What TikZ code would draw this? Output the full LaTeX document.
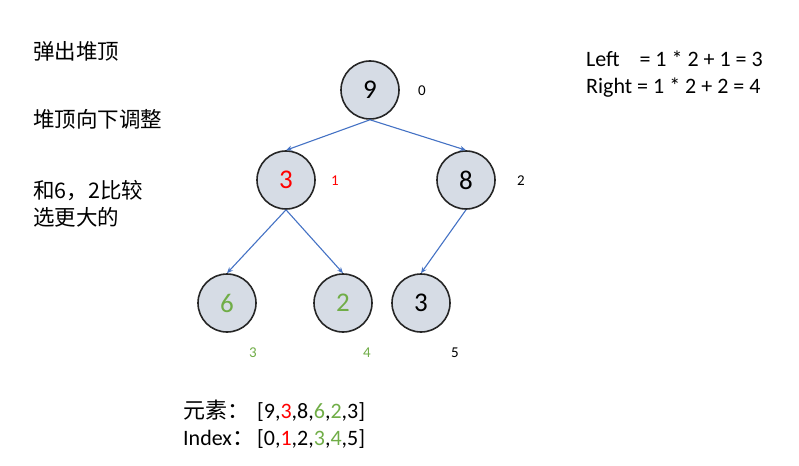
\documentclass[tikz,border=0pt]{standalone}
\usepackage{fontspec}
\setmainfont{Carlito}
\newfontfamily\cjk{Noto Sans CJK SC}
\usetikzlibrary{arrows.meta}
\definecolor{nodefill}{HTML}{D6DCE5}
\definecolor{nodeline}{HTML}{262626}
\definecolor{edgeblue}{HTML}{4472C4}
\definecolor{myred}{HTML}{FF0000}
\definecolor{mygreen}{HTML}{70AD47}
\tikzset{
  heapnode/.style={circle, draw=nodeline, line width=1.6pt, fill=nodefill, minimum size=58pt, inner sep=0pt, font=\fontsize{27}{27}\selectfont},
  idx/.style={font=\fontsize{15}{15}\selectfont, inner sep=0pt},
  edge/.style={draw=edgeblue, line width=1.1pt, -{Stealth[length=6pt,width=5pt]}},
  note/.style={anchor=base west, inner sep=0pt, font=\fontsize{22}{22}\selectfont},
  cjknote/.style={anchor=base west, inner sep=0pt, font=\cjk\fontsize{21.5}{21.5}\selectfont},
}
\begin{document}
\begin{tikzpicture}[x=1pt,y=-1pt]
\useasboundingbox (0,0) rectangle (799,465);
% nodes
\node[heapnode] (n0) at (370,90) {9};
\node[heapnode, text=myred] (n1) at (286,180) {3};
\node[heapnode] (n2) at (466,180) {8};
\node[heapnode, text=mygreen] (n3) at (227,303) {6};
\node[heapnode, text=mygreen] (n4) at (343,303) {2};
\node[heapnode] (n5) at (421,303) {3};
% index labels
\node[idx] (i0) at (422,91) {0};
\node[idx, text=myred] (i1) at (335,181) {1};
\node[idx] (i2) at (521,181) {2};
\node[idx, text=mygreen] (i3) at (253,353) {3};
\node[idx, text=mygreen] (i4) at (367,353) {4};
\node[idx] (i5) at (455,353) {5};
% edges
\draw[edge] (n0.south) -- (n1.north);
\draw[edge] (n0.south) -- (n2.north);
\draw[edge] (n1.south) -- (n3.north);
\draw[edge] (n1.south) -- (n4.north);
\draw[edge] (n2.south) -- (n5.north);
% left notes
\node[cjknote] (t1) at (33,60) {弹出堆顶};
\node[cjknote] (t2) at (33,128) {堆顶向下调整};
\node[cjknote] (t3) at (33,198) {和6，2比较};
\node[cjknote] (t4) at (33,225) {选更大的};
% right formulas
\node[note] (f1) at (586,67) {Left\hspace{0.9em}= 1 * 2 + 1 = 3};
\node[note] (f2) at (586,94) {Right = 1 * 2 + 2 = 4};
% bottom arrays
\node[note] (l1) at (183,418) {{\cjk 元素：}};
\node[note] (a1) at (257,418) {[9,\textcolor{myred}{3},8,\textcolor{mygreen}{6},\textcolor{mygreen}{2},3]};
\node[note] (l2) at (183,445) {Index{\cjk ：}};
\node[note] (a2) at (257,445) {[0,\textcolor{myred}{1},2,\textcolor{mygreen}{3},\textcolor{mygreen}{4},5]};
\end{tikzpicture}
\end{document}
